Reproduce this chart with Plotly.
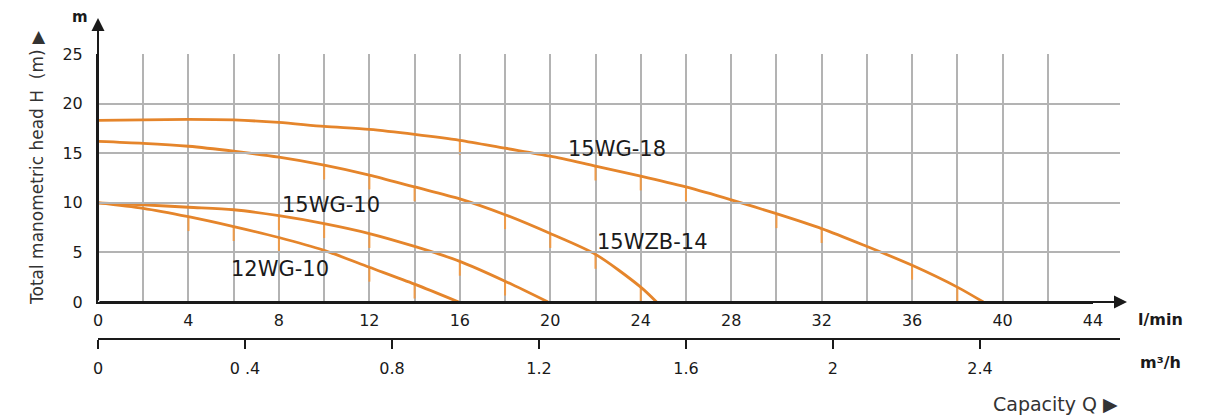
import plotly.graph_objects as go

# ---------------- data ----------------
# Flow in l/min, head in m
q_15wg18 = [0, 2, 4, 6, 8, 10, 12, 14, 16, 18, 20, 22, 24, 26, 28, 30, 32, 34, 36, 38, 39.15]
h_15wg18 = [18.3, 18.35, 18.4, 18.35, 18.1, 17.7, 17.4, 16.9, 16.3, 15.5, 14.7, 13.7, 12.7,
            11.6, 10.3, 8.9, 7.4, 5.6, 3.7, 1.5, 0]

q_15wzb14 = [0, 2, 4, 6, 8, 10, 12, 14, 16, 18, 20, 22, 24, 24.7]
h_15wzb14 = [16.2, 16.0, 15.7, 15.2, 14.6, 13.8, 12.8, 11.6, 10.4, 8.8, 6.9, 4.8, 1.5, 0]

q_15wg10 = [0, 2, 4, 6, 8, 10, 12, 14, 16, 18, 19.9]
h_15wg10 = [10.0, 9.8, 9.55, 9.3, 8.7, 7.9, 6.9, 5.6, 4.1, 2.1, 0]

q_12wg10 = [0, 2, 4, 6, 8, 10, 12, 14, 15.95]
h_12wg10 = [10.0, 9.45, 8.6, 7.6, 6.5, 5.2, 3.5, 1.8, 0]

# flow points where the small marker ticks hang below each curve
ticks_15wg18 = [16, 22, 24, 26, 30, 32, 36, 38]
ticks_15wzb14 = [10, 12, 14, 18, 20, 22, 24]
ticks_15wg10 = [8, 10, 12, 16, 18]
ticks_12wg10 = [4, 6, 8, 12, 14]

curve_names = ["15WG-18", "15WZB-14", "15WG-10", "12WG-10"]

# axis ticks
lmin_ticks = [0, 4, 8, 12, 16, 20, 24, 28, 32, 36, 40, 44]
head_ticks = [0, 5, 10, 15, 20, 25]
m3h_ticks = [0, 0.4, 0.8, 1.2, 1.6, 2, 2.4]
m3h_labels = ["0", "0 .4", "0.8", "1.2", "1.6", "2", "2.4"]
# on the printed chart, 2.4 m3/h lines up with 39 l/min
m3h_per_lmin = 2.4 / 39.0

# ---------------- styling ----------------
ORANGE = "#E5852B"
TICK_ORANGE = "#EE9A48"
GRID = "#b3b3b3"
INK = "#1a1a1a"
NUM_FONT = "DejaVu Sans"

W, H = 1222, 416
ML, MR, MT, MB = 98, 102, 54, 77
plot_w = W - ML - MR          # 1022
plot_h = H - MT - MB          # 285
x_axis_px = 995               # pixels for 0..44 l/min
y_bottom_px = 37              # gap from plot bottom (m3/h axis) to head = 0

lmin_max = 44
x_dom_end = x_axis_px / plot_w
lmin_full = lmin_max / x_dom_end

fig = go.Figure()

curves = [
    (q_15wg18, h_15wg18, ticks_15wg18),
    (q_15wzb14, h_15wzb14, ticks_15wzb14),
    (q_15wg10, h_15wg10, ticks_15wg10),
    (q_12wg10, h_12wg10, ticks_12wg10),
]

for name, (q, h, tq) in zip(curve_names, curves):
    lookup = dict(zip(q, h))
    th = [lookup[t] for t in tq]
    fig.add_trace(go.Scatter(
        x=tq, y=th, mode="markers",
        marker=dict(size=2, opacity=0),
        error_y=dict(type="data", symmetric=False, array=[0] * len(tq),
                     arrayminus=[1.45] * len(tq), width=0, thickness=2,
                     color=TICK_ORANGE),
        showlegend=False, hoverinfo="skip"))
    fig.add_trace(go.Scatter(
        x=q, y=h, mode="lines", name=name,
        line=dict(color=ORANGE, width=2.8, shape="spline", smoothing=0.8),
        showlegend=False))

# dummy trace so the m3/h axis is drawn
fig.add_trace(go.Scatter(x=[0], y=[0], xaxis="x2", yaxis="y", mode="markers",
                         marker=dict(opacity=0), showlegend=False, hoverinfo="skip"))

grid_kw = dict(showgrid=True, gridcolor=GRID, gridwidth=1.6, zeroline=False)

fig.update_layout(
    width=W, height=H, autosize=False,
    margin=dict(l=ML, r=MR, t=MT, b=MB, pad=0),
    paper_bgcolor="white", plot_bgcolor="rgba(0,0,0,0)",
    showlegend=False,
    xaxis=dict(domain=[0, x_dom_end], range=[0, lmin_max], anchor="y",
               tickvals=lmin_ticks, ticks="", ticklabelstandoff=3,
               tickfont=dict(family=NUM_FONT, size=16, color=INK),
               showline=True, linecolor=INK, linewidth=2,
               minor=dict(dtick=2, tick0=0, showgrid=True, gridcolor=GRID, gridwidth=1.6),
               **grid_kw),
    yaxis=dict(domain=[y_bottom_px / plot_h, 1], range=[0, 25], anchor="x",
               tickvals=head_ticks, ticks="", ticklabelstandoff=10,
               tickfont=dict(family=NUM_FONT, size=16, color=INK),
               showline=True, linecolor=INK, linewidth=2,
               **grid_kw),
    xaxis2=dict(domain=[0, 1], anchor="free", position=0,
                range=[0, lmin_full * m3h_per_lmin],
                tickvals=m3h_ticks, ticktext=m3h_labels,
                ticks="outside", ticklen=9, tickwidth=1.6, tickcolor=INK,
                ticklabelstandoff=6,
                tickfont=dict(family=NUM_FONT, size=16, color=INK),
                showline=True, linecolor=INK, linewidth=2,
                showgrid=False, zeroline=False),
)

ann = []
# axis arrows
x_tip_px = 1127 - ML
ann.append(dict(xref="paper", yref="y", x=x_tip_px / plot_w, y=0, ax=-x_tip_px, ay=0,
                text="", showarrow=True, arrowhead=2, arrowsize=1.3, arrowwidth=2,
                arrowcolor=INK, standoff=0))
y_tip_px = 18
ann.append(dict(xref="x", yref="paper", x=0, y=(H - MB - y_tip_px) / plot_h,
                ax=0, ay=(H - MB - y_bottom_px) - y_tip_px,
                text="", showarrow=True, arrowhead=2, arrowsize=1.3, arrowwidth=2,
                arrowcolor=INK, standoff=0))

def px_to_paper(px, py):
    return (px - ML) / plot_w, (H - MB - py) / plot_h

def text_ann(px, py, text, font, **kw):
    x0, y0 = px_to_paper(px, py)
    d = dict(xref="paper", yref="paper", x=x0, y=y0, text=text, showarrow=False,
             xanchor="center", yanchor="middle", font=font)
    d.update(kw)
    return d

ann.append(text_ann(80, 17, "<b>m</b>", dict(family=NUM_FONT, size=15, color=INK)))
ann.append(text_ann(37, 168, "Total manometric head H  (m) ▶",
                    dict(family=NUM_FONT, size=17, color="#333333"), textangle=-90))
ann.append(text_ann(1160, 319, "<b>l/min</b>", dict(family=NUM_FONT, size=16, color=INK)))
ann.append(text_ann(1160, 362, "<b>m³/h</b>", dict(family=NUM_FONT, size=16, color=INK)))
ann.append(text_ann(1055, 404, "Capacity Q ▶", dict(family=NUM_FONT, size=19, color="#333333")))

# curve labels (data coordinates)
label_pos = {"15WG-18": (22.95, 15.4), "15WZB-14": (24.5, 6.05),
             "15WG-10": (10.3, 9.8), "12WG-10": (8.05, 3.3)}
for name in curve_names:
    lx, ly = label_pos[name]
    ann.append(dict(xref="x", yref="y", x=lx, y=ly, text=name, showarrow=False,
                    xanchor="center", yanchor="middle",
                    font=dict(family=NUM_FONT, size=21, color="#1a1a1a")))

fig.update_layout(annotations=ann)

fig.write_html("out.html", config={"displayModeBar": False},
               post_script="document.body.style.margin='0';")
